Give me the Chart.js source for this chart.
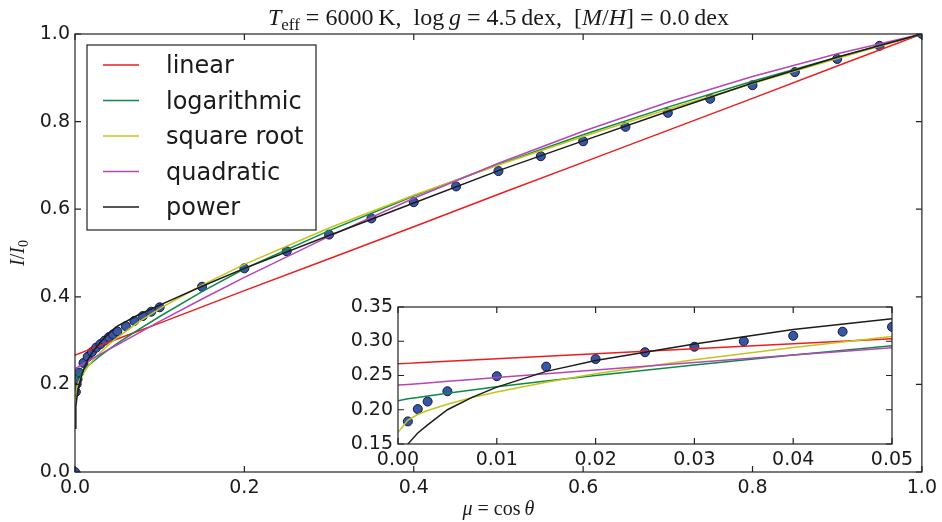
<!DOCTYPE html>
<html>
<head>
<meta charset="utf-8">
<script src="https://cdn.jsdelivr.net/npm/chart.js@4.4.1/dist/chart.umd.min.js"></script>
<style>
  html, body { margin: 0; padding: 0; background: #fff; }
  #wrap { position: relative; width: 942px; height: 522px; overflow: hidden; }
  #main { position: absolute; left: 0; top: 0; }
  #inset { position: absolute; left: 340px; top: 290px; }
</style>
</head>
<body>
<div id="wrap">
  <canvas id="main" width="942" height="522"></canvas>
  <canvas id="inset" width="600" height="195"></canvas>
</div>
<script>
// limb darkening profile I/I0 vs mu, five fitted laws over the model intensities

// mu grid of the fitted curves
const MU = [0, 0.001, 0.002, 0.003, 0.005, 0.0075, 0.01, 0.015, 0.02, 0.03, 0.04, 0.05,
            0.075, 0.1, 0.15, 0.2, 0.3, 0.4, 0.5, 0.6, 0.7, 0.8, 0.9, 1.0];
const LINEAR      = [0.267, 0.2677, 0.2685, 0.2692, 0.2707, 0.2725, 0.2743, 0.278, 0.2817, 0.289, 0.2963, 0.3037,
                     0.322, 0.340, 0.377, 0.414, 0.487, 0.560, 0.634, 0.707, 0.780, 0.853, 0.927, 1.000];
const LOGARITHMIC = [0.213, 0.216, 0.218, 0.220, 0.224, 0.229, 0.2335, 0.242, 0.250, 0.2655, 0.280, 0.2935,
                     0.325, 0.355, 0.412, 0.464, 0.551, 0.630, 0.702, 0.770, 0.833, 0.892, 0.947, 1.000];
const SQUARE_ROOT = [0.167, 0.185, 0.193, 0.199, 0.208, 0.218, 0.226, 0.240, 0.2525, 0.273, 0.291, 0.307,
                     0.342, 0.373, 0.4265, 0.474, 0.557, 0.632, 0.701, 0.766, 0.828, 0.887, 0.944, 1.000];
const QUADRATIC   = [0.236, 0.237, 0.238, 0.239, 0.2415, 0.244, 0.247, 0.2525, 0.258, 0.269, 0.280, 0.2905,
                     0.317, 0.344, 0.395, 0.4445, 0.538, 0.625, 0.705, 0.778, 0.844, 0.903, 0.955, 1.000];
const POWER       = [0.100, 0.150, 0.166, 0.178, 0.200, 0.218, 0.233, 0.256, 0.272, 0.296, 0.317, 0.333,
                     0.359, 0.381, 0.424, 0.465, 0.540, 0.614, 0.688, 0.756, 0.823, 0.888, 0.947, 1.000];

// model atmosphere intensities (blue dots)
const MU_OBS = [0, 0.001, 0.002, 0.003, 0.005, 0.01, 0.015, 0.02, 0.025, 0.03, 0.035, 0.04, 0.045, 0.05,
                0.06, 0.07, 0.08, 0.09, 0.1, 0.15, 0.2, 0.25, 0.3, 0.35, 0.4, 0.45, 0.5, 0.55, 0.6,
                0.65, 0.7, 0.75, 0.8, 0.85, 0.9, 0.95, 1.0];
const I_OBS  = [0, 0.183, 0.201, 0.212, 0.227, 0.249, 0.263, 0.274, 0.284, 0.292, 0.300, 0.308, 0.314, 0.321,
                0.333, 0.345, 0.356, 0.366, 0.376, 0.423, 0.465, 0.504, 0.542, 0.579, 0.616, 0.652, 0.687,
                0.721, 0.755, 0.788, 0.820, 0.852, 0.883, 0.913, 0.943, 0.973, 1.0];

const LAWS = ['linear', 'logarithmic', 'square root', 'quadratic', 'power'];
const LAW_VALUES = [LINEAR, LOGARITHMIC, SQUARE_ROOT, QUADRATIC, POWER];
const LAW_COLORS = ['#ee1d1d', '#0d8a47', '#c4c41c', '#b646b6', '#1c1c1c'];

const MAIN_TICKS = [0, 0.2, 0.4, 0.6, 0.8, 1.0];
const INSET_X_TICKS = [0, 0.01, 0.02, 0.03, 0.04, 0.05];
const INSET_Y_TICKS = [0.15, 0.20, 0.25, 0.30, 0.35];

const INK = '#1a1a1a';
const TICK_FONT = { family: 'DejaVu Sans', size: 19 };
const SERIF = '"Liberation Serif", "DejaVu Serif", serif';

function buildDatasets() {
    const sets = [{
        label: '_model',
        data: MU_OBS.map((m, i) => ({ x: m, y: I_OBS[i] })),
        showLine: false,
        pointRadius: 4.5,
        pointBackgroundColor: '#3657a4',
        pointBorderColor: '#15173c',
        pointBorderWidth: 1,
        order: 10,
        clip: 0
    }];
    LAWS.forEach((name, k) => sets.push({
        label: name,
        data: MU.map((m, i) => ({ x: m, y: LAW_VALUES[k][i] })),
        borderColor: LAW_COLORS[k],
        backgroundColor: LAW_COLORS[k],
        borderWidth: 1.5,
        pointRadius: 0,
        tension: 0,
        fill: false,
        order: 5 - k,
        clip: 0
    }));
    return sets;
}

// mixed roman / italic / subscript text, centred on cx
function drawRich(ctx, segs, cx, baseY, size) {
    const fontOf = s => (s.it ? 'italic ' : '') + (s.sub ? Math.round(size * 0.7) : size) + 'px ' + SERIF;
    let w = 0;
    segs.forEach(s => { ctx.font = fontOf(s); s.w = ctx.measureText(s.t).width; w += s.w; });
    let x = cx - w / 2;
    ctx.textAlign = 'left';
    ctx.textBaseline = 'alphabetic';
    segs.forEach(s => {
        ctx.font = fontOf(s);
        ctx.fillText(s.t, x, baseY + (s.sub ? size * 0.22 : 0));
        x += s.w;
    });
}

// box + inward ticks on all four sides, like the matplotlib frame
const frameTicks = {
    id: 'frameTicks',
    beforeDatasetsDraw(chart, args, opts) {
        if (!opts.fill) return;
        const a = chart.chartArea;
        chart.ctx.save();
        chart.ctx.fillStyle = '#fff';
        chart.ctx.fillRect(a.left, a.top, a.right - a.left, a.bottom - a.top);
        chart.ctx.restore();
    },
    afterDatasetsDraw(chart) {
        const { ctx, chartArea: a, scales } = chart;
        const len = 6;
        ctx.save();
        ctx.strokeStyle = '#222';
        ctx.lineWidth = 1.2;
        ctx.beginPath();
        scales.x.ticks.forEach(t => {
            const px = scales.x.getPixelForValue(t.value);
            ctx.moveTo(px, a.bottom); ctx.lineTo(px, a.bottom - len);
            ctx.moveTo(px, a.top); ctx.lineTo(px, a.top + len);
        });
        scales.y.ticks.forEach(t => {
            const py = scales.y.getPixelForValue(t.value);
            ctx.moveTo(a.left, py); ctx.lineTo(a.left + len, py);
            ctx.moveTo(a.right, py); ctx.lineTo(a.right - len, py);
        });
        ctx.stroke();
        ctx.strokeRect(a.left, a.top, a.right - a.left, a.bottom - a.top);
        ctx.restore();
    }
};

// legend box in the upper left, lines only
const boxLegend = {
    id: 'boxLegend',
    afterDraw(chart) {
        const ctx = chart.ctx;
        const items = chart.data.datasets.filter(d => !d.label.startsWith('_'));
        const left = 87, top = 45, w = 229, h = 185;
        ctx.save();
        ctx.fillStyle = '#fff';
        ctx.fillRect(left, top, w, h);
        ctx.strokeStyle = '#222';
        ctx.lineWidth = 1.2;
        ctx.strokeRect(left, top, w, h);
        ctx.font = '24px "DejaVu Sans"';
        ctx.textBaseline = 'middle';
        ctx.textAlign = 'left';
        items.forEach((d, i) => {
            const y = 65 + i * 35.5;
            ctx.strokeStyle = d.borderColor;
            ctx.lineWidth = 1.5;
            ctx.beginPath(); ctx.moveTo(103, y); ctx.lineTo(139, y); ctx.stroke();
            ctx.fillStyle = INK;
            ctx.fillText(d.label, 166, y + 2);
        });
        ctx.restore();
    }
};

// title and axis labels in math style
const mathLabels = {
    id: 'mathLabels',
    afterDraw(chart) {
        const ctx = chart.ctx;
        const a = chart.chartArea;
        const cx = (a.left + a.right) / 2;
        ctx.save();
        ctx.fillStyle = INK;
        drawRich(ctx, [
            { t: 'T', it: true }, { t: 'eff', sub: true },
            { t: ' = 6000\u2009K,  log\u2009' }, { t: 'g', it: true },
            { t: ' = 4.5\u2009dex,  [' }, { t: 'M', it: true }, { t: '/' }, { t: 'H', it: true },
            { t: '] = 0.0\u2009dex' }
        ], cx, 25, 24);
        drawRich(ctx, [{ t: 'μ', it: true }, { t: ' = cos\u2009' }, { t: 'θ', it: true }], cx, 515, 20);
        ctx.translate(24, (a.top + a.bottom) / 2);
        ctx.rotate(-Math.PI / 2);
        drawRich(ctx, [{ t: 'I', it: true }, { t: '/' }, { t: 'I', it: true }, { t: '0', sub: true }], 0, 0, 20);
        ctx.restore();
    }
};

function axis(min, max, tickVals, digits, fitSize, pad, isY) {
    return {
        type: 'linear',
        min: min,
        max: max,
        afterBuildTicks: s => { s.ticks = tickVals.map(v => ({ value: v })); },
        afterFit: s => { if (isY) s.width = fitSize; else s.height = fitSize; },
        grid: { display: false, drawTicks: false },
        border: { display: false },
        ticks: {
            color: INK,
            font: TICK_FONT,
            padding: pad,
            maxRotation: 0,
            autoSkip: false,
            callback: v => Number(v).toFixed(digits)
        }
    };
}

const common = {
    responsive: false,
    animation: false,
    events: [],
    plugins: { legend: { display: false }, tooltip: { enabled: false } }
};

new Chart(document.getElementById('main').getContext('2d'), {
    type: 'line',
    data: { datasets: buildDatasets() },
    options: Object.assign({}, common, {
        layout: { padding: { left: 0, top: 34, right: 19, bottom: 0 } },
        scales: {
            x: axis(0, 1, MAIN_TICKS, 1, 50, 5, false),
            y: axis(0, 1, MAIN_TICKS, 1, 75, 5, true)
        },
        plugins: Object.assign({}, common.plugins, { frameTicks: { fill: false } })
    }),
    plugins: [frameTicks, boxLegend, mathLabels]
});

new Chart(document.getElementById('inset').getContext('2d'), {
    type: 'line',
    data: { datasets: buildDatasets() },
    options: Object.assign({}, common, {
        layout: { padding: { left: 0, top: 17, right: 48, bottom: 0 } },
        scales: {
            x: axis(0, 0.05, INSET_X_TICKS, 2, 41, 5, false),
            y: axis(0.15, 0.35, INSET_Y_TICKS, 2, 58, 5, true)
        },
        plugins: Object.assign({}, common.plugins, { frameTicks: { fill: true } })
    }),
    plugins: [frameTicks]
});
</script>
</body>
</html>
